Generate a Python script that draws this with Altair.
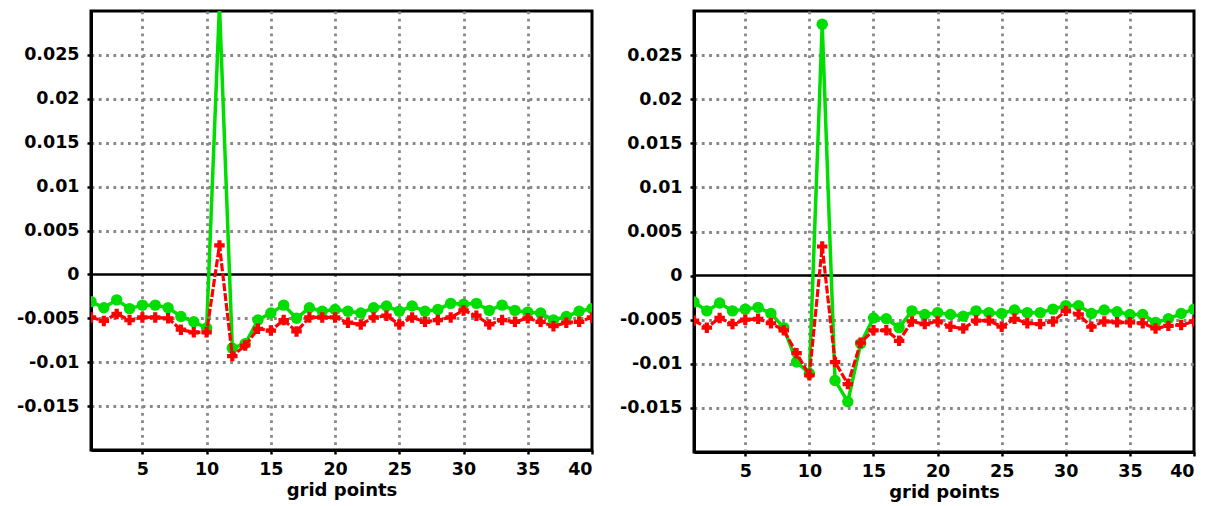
import altair as alt
import pandas as pd

grid_x = list(range(1, 41))

left_green = [-0.0031, -0.0038, -0.0029, -0.0039, -0.0035, -0.0035, -0.0038, -0.0048, -0.0054, -0.0061,
              0.0307, -0.0084, -0.0079, -0.0052, -0.0044, -0.0035, -0.0050, -0.0038, -0.0042, -0.0040,
              -0.0042, -0.0044, -0.0038, -0.0036, -0.0042, -0.0036, -0.0042, -0.0040, -0.0033, -0.0034,
              -0.0033, -0.0041, -0.0035, -0.0041, -0.0043, -0.0044, -0.0052, -0.0048, -0.0042, -0.0039]
left_red = [-0.0049, -0.0053, -0.0045, -0.0052, -0.0049, -0.0049, -0.0050, -0.0063, -0.0066, -0.0066,
            0.0033, -0.0093, -0.0081, -0.0062, -0.0064, -0.0052, -0.0065, -0.0049, -0.0049, -0.0049,
            -0.0055, -0.0057, -0.0049, -0.0047, -0.0057, -0.0049, -0.0054, -0.0052, -0.0049, -0.0041,
            -0.0047, -0.0057, -0.0052, -0.0054, -0.0050, -0.0054, -0.0059, -0.0055, -0.0054, -0.0049]
right_green = [-0.0030, -0.0040, -0.0031, -0.0040, -0.0038, -0.0036, -0.0043, -0.0059, -0.0098, -0.0111,
               0.0285, -0.0119, -0.0143, -0.0077, -0.0048, -0.0049, -0.0059, -0.0040, -0.0044, -0.0042,
               -0.0044, -0.0046, -0.0040, -0.0042, -0.0043, -0.0039, -0.0042, -0.0042, -0.0038, -0.0034,
               -0.0034, -0.0043, -0.0039, -0.0041, -0.0044, -0.0044, -0.0053, -0.0049, -0.0043, -0.0038]
right_red = [-0.0051, -0.0059, -0.0048, -0.0055, -0.0050, -0.0049, -0.0054, -0.0062, -0.0088, -0.0113,
             0.0033, -0.0098, -0.0123, -0.0076, -0.0062, -0.0062, -0.0074, -0.0052, -0.0055, -0.0052,
             -0.0058, -0.0060, -0.0051, -0.0051, -0.0058, -0.0049, -0.0054, -0.0055, -0.0052, -0.0040,
             -0.0044, -0.0058, -0.0052, -0.0053, -0.0053, -0.0054, -0.0060, -0.0057, -0.0056, -0.0052]

x_ticks = [5, 10, 15, 20, 25, 30, 35, 40]
y_ticks = [-0.015, -0.01, -0.005, 0, 0.005, 0.01, 0.015, 0.02, 0.025]

GREEN = "#00dd00"
RED = "#ff0000"
FONT = "DejaVu Sans"


def panel(green, red, w, h):
    df = pd.DataFrame({"x": grid_x * 2,
                       "value": green + red,
                       "series": ["green"] * 40 + ["red"] * 40})
    xenc = alt.X("x:Q",
                 scale=alt.Scale(domain=[1, 40], nice=False, zero=False),
                 axis=alt.Axis(values=x_ticks, title="grid points",
                               gridOpacity={"condition": {"test": "datum.value >= 40", "value": 0}, "value": 1}))
    yenc = alt.Y("value:Q",
                 scale=alt.Scale(domain=[-0.02, 0.03], nice=False, zero=False),
                 axis=alt.Axis(values=y_ticks, title=None, minExtent=84, maxExtent=84,
                               labelExpr="datum.value == 0 ? '0' : replace(format(datum.value, '.3~f'), '\u2212', '-')",
                               gridOpacity={"condition": {"test": "datum.value == 0", "value": 0}, "value": 1}))
    base = alt.Chart(df).encode(x=xenc, y=yenc)
    g_line = base.transform_filter("datum.series == 'green'").mark_line(color=GREEN, strokeWidth=3.5, clip=True)
    g_pts = base.transform_filter("datum.series == 'green'").mark_point(
        shape="circle", filled=True, color=GREEN, size=130, opacity=1, clip=True)
    r_line = base.transform_filter("datum.series == 'red'").mark_line(
        color=RED, strokeWidth=3.2, strokeDash=[8, 2], clip=True)
    r_pts = base.transform_filter("datum.series == 'red'").mark_point(
        shape="cross", filled=True, color=RED, size=110, opacity=1, clip=True)
    zero = alt.Chart(pd.DataFrame({"v": [0]})).mark_rule(color="black", strokeWidth=2.5).encode(
        y=alt.Y("v:Q", scale=alt.Scale(domain=[-0.02, 0.03], nice=False, zero=False)))
    return alt.layer(zero, g_line, g_pts, r_line, r_pts).properties(width=w, height=h)


left = panel(left_green, left_red, 501, 439)
right = panel(right_green, right_red, 500, 441)

chart = alt.hconcat(left, right, spacing=13).properties(
    padding={"left": 5, "top": 9, "right": 5, "bottom": 5}
).configure_view(
    stroke="black", strokeWidth=3
).configure_axis(
    domainColor="black", domainWidth=3,
    tickColor="black", tickWidth=2.5, tickSize=4,
    labelFont=FONT, labelFontWeight="bold", labelFontSize=17.5, labelColor="black",
    labelPadding=6,
    titleFont=FONT, titleFontWeight="bold", titleFontSize=18, titleColor="black",
    titlePadding=4,
    grid=True, gridColor="#888888", gridWidth=2.8, gridDash=[2.8, 4.5],
).configure_axisY(labelPadding=8)

chart.save("out.html", embed_options={"renderer": "svg", "actions": False})
